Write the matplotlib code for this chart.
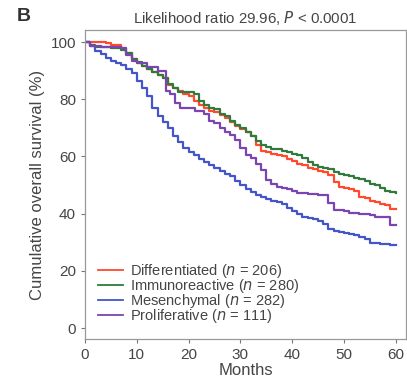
import matplotlib
matplotlib.use("Agg")
import matplotlib.pyplot as plt

plt.rcParams['font.family'] = ['Liberation Sans', 'DejaVu Sans']

# Kaplan-Meier curves (months, survival %)
diff_t = [0, 4, 5, 7, 8, 9, 10, 11, 12, 13, 14, 15, 16, 17, 18, 19, 20, 21, 22, 23, 24, 25, 26, 27, 28, 29, 30,
          31, 32, 33, 34, 35, 36, 37, 38, 39, 40, 41, 42, 43, 44, 45, 46, 47, 48, 49, 50, 51, 52, 53, 54, 55,
          56, 57, 58, 59, 60]
diff_s = [100, 99.5, 99, 98, 96, 94, 92.5, 91.5, 90.5, 89.5, 88.5, 87.5, 85, 84, 83, 82, 81, 79.5, 78, 77, 76,
          75.5, 74.5, 73.5, 72, 70.5, 69.5, 68.5, 67, 64, 62, 61.5, 61, 60.5, 60, 59, 58.5, 57.5, 57, 56, 55.5,
          55, 54.5, 53.5, 51, 49.5, 49, 48.5, 48, 46, 45.5, 44.5, 44, 43.5, 43, 41.7, 41.6]

immu_t = [0, 1, 2, 5, 7, 8, 9, 10, 11, 12, 13, 14, 15, 16, 17, 18, 21, 22, 23, 24, 25, 26, 27, 28, 29, 30, 31,
          32, 33, 34, 35, 36, 38, 39, 40, 41, 42, 43, 44, 45, 46, 47, 48, 49, 50, 51, 52, 53, 54, 55, 56, 57,
          58, 59, 60]
immu_s = [100, 99, 98.3, 98, 97.2, 96, 94, 93, 91.5, 90.5, 89.5, 88.5, 87.5, 85.5, 84, 82.5, 82, 79.5, 78, 77,
          76.5, 75, 74, 72.5, 71, 70, 68.5, 67, 65.5, 64, 63.3, 62.5, 62, 61.5, 61, 60.5, 59.5, 58, 57, 56.4,
          56, 55.5, 54.5, 54, 53.5, 53, 52.5, 52, 51.5, 50.5, 50, 49, 48, 47.5, 47.2]

mes_t = list(range(0, 61))
mes_s = [100, 98.5, 97, 95.8, 94.5, 93.5, 92.8, 92, 90.5, 89, 86.5, 84, 81, 77, 74, 72, 70, 67, 65, 63, 61.5,
         60.5, 59, 58, 57, 56, 55, 54, 53, 51.5, 50, 48.5, 47.5, 46.5, 46, 45, 44.5, 44, 43.5, 42, 41, 40, 39,
         38.5, 38, 37.5, 36.5, 34.5, 34, 33.5, 33.2, 33, 32.5, 32, 31, 29.8, 29.6, 29.5, 29.5, 29.2, 29]

prol_t = [0, 1, 3, 7, 8, 9, 10, 12, 14, 15.6, 16.5, 17.3, 18.3, 21.2, 23, 24, 25, 26, 27, 28, 29, 30, 31,
          32, 33, 34, 35, 36, 37, 38, 39, 40, 41, 43, 45, 47, 48, 50, 51, 53, 55, 56, 58, 59, 60]
prol_s = [100, 98.5, 98.3, 98, 95.5, 93.5, 92.5, 91.3, 90, 83, 82, 78.7, 77, 76, 75, 72.5, 71.6, 70, 68.5,
          67.5, 65.7, 63, 60.5, 59.5, 57.5, 55.2, 51.7, 50.5, 49.5, 49, 48.5, 48, 47.2, 47, 46.5, 43.7, 41.3,
          41, 40.2, 40, 39.5, 38.8, 38.8, 36, 36]

labels = ['Differentiated', 'Immunoreactive', 'Mesenchymal', 'Proliferative']
counts = [206, 280, 282, 111]
colors = ['#ff4a2e', '#2f7a3c', '#4455c8', '#7a45b0']
series = [(diff_t, diff_s), (immu_t, immu_s), (mes_t, mes_s), (prol_t, prol_s)]

txt = '#454545'
fig = plt.figure(figsize=(4.07, 3.77), dpi=100)
ax = fig.add_axes([0.209, 0.1008, 0.7885, 0.8196])

for (t, s), lab, n, c in zip(series, labels, counts, colors):
    ax.step(t, s, where='post', color=c, lw=1.6, label=lab + ' ($n$ = %d)' % n)

ax.set_xlim(0, 62)
ax.set_ylim(-3.8, 104.2)
ax.set_xticks([0, 10, 20, 30, 40, 50, 60])
ax.set_yticks([0, 20, 40, 60, 80, 100])
ax.tick_params(labelsize=11, colors='#777777', labelcolor=txt, length=3, width=0.8)
for sp in ax.spines.values():
    sp.set_color('#999999')
    sp.set_linewidth(0.9)

ax.set_xlabel('Months', fontsize=12, color=txt, labelpad=1)
ax.set_ylabel('Cumulative overall survival (%)', fontsize=12, color=txt, labelpad=4)
ax.set_title('Likelihood ratio 29.96, $P$ < 0.0001', fontsize=10.8, color=txt, pad=5)
fig.text(0.042, 0.955, 'B', fontsize=14, fontweight='bold', color='#333333', ha='left', va='center')

leg = ax.legend(loc='lower left', bbox_to_anchor=(0.04, 0.044), frameon=False, fontsize=10.5,
                handlelength=1.7, handletextpad=0.48, labelspacing=-0.19, borderpad=0, borderaxespad=0)
for t in leg.get_texts():
    t.set_color(txt)
for h in leg.get_lines():
    h.set_linewidth(1.3)

fig.savefig('out.png', dpi=100)
